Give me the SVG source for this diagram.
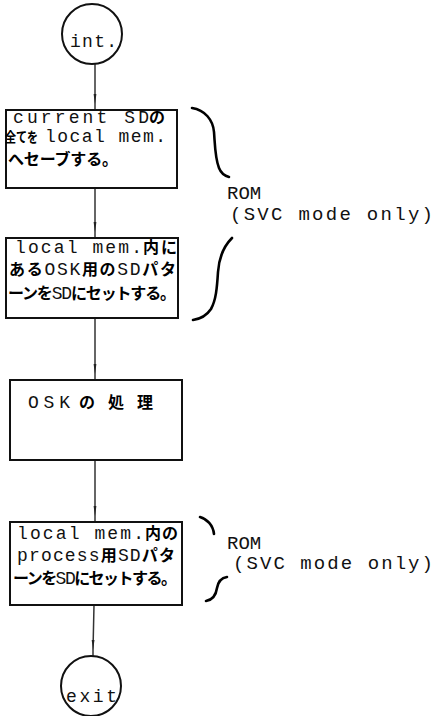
<svg xmlns="http://www.w3.org/2000/svg" width="435" height="716" viewBox="0 0 435 716">
<defs>
<style>
.box{fill:#fff;stroke:#111;stroke-width:2}
.term{fill:#fff;stroke:#111;stroke-width:2}
.conn{fill:none;stroke:#333;stroke-width:1.5}
.brace{fill:none;stroke:#000;stroke-width:2.6;stroke-linecap:round}
.t{font-family:"Liberation Mono","Noto Sans CJK JP",monospace;font-size:18px;fill:#111}
.j{font-family:"Noto Sans CJK JP",sans-serif;font-size:16px;font-weight:bold;fill:#000}
.r{font-family:"Liberation Mono",monospace;font-size:19px;fill:#111}
</style>
<marker id="ah" viewBox="0 0 10 4" refX="10" refY="2" markerWidth="10" markerHeight="4" markerUnits="userSpaceOnUse" orient="auto">
<path d="M0 0.6 L10 2 L0 3.4 Z" fill="#222"/>
</marker>
</defs>
<rect width="435" height="716" fill="#fff"/>
<g id="connectors">
<path class="conn" d="M95 64 L95 104 L95 110" marker-mid="url(#ah)"/>
<path class="conn" d="M95 188 L95 232 L95 238" marker-mid="url(#ah)"/>
<path class="conn" d="M95 318 L95 374 L95 380" marker-mid="url(#ah)"/>
<path class="conn" d="M95 460 L95 516 L95 522" marker-mid="url(#ah)"/>
<path class="conn" d="M94 605 L93 650 L93 656" marker-mid="url(#ah)"/>
</g>
<g id="n-int">
<circle class="term" cx="92" cy="34" r="30"/>
<text class="t" x="70" y="47" textLength="47" lengthAdjust="spacing">int.</text>
</g>
<g id="n-save">
<rect class="box" x="6" y="110" width="171" height="78"/>
<text class="t" x="13" y="123" textLength="136" lengthAdjust="spacing">current SD</text>
<text class="j" x="149" y="123">の</text>
<text class="j" x="5" y="142" textLength="33" lengthAdjust="spacingAndGlyphs" style="font-size:14px">全てを</text>
<text class="t" x="45" y="142" textLength="121" lengthAdjust="spacing">local mem.</text>
<text class="j" x="8" y="165" textLength="110" lengthAdjust="spacing">へセーブする。</text>
</g>
<g id="n-setosk">
<rect class="box" x="6" y="238" width="172" height="80"/>
<text class="t" x="15" y="253" textLength="127" lengthAdjust="spacing">local mem.</text>
<text class="j" x="143" y="253" textLength="34" lengthAdjust="spacing">内に</text>
<text class="t" x="9" y="275" textLength="167" lengthAdjust="spacing"><tspan class="j">ある</tspan><tspan class="t">OSK</tspan><tspan class="j">用の</tspan><tspan class="t">SD</tspan><tspan class="j">パタ</tspan></text>
<text class="t" x="8" y="299" textLength="168" lengthAdjust="spacing"><tspan class="j">ーンを</tspan><tspan class="t">SD</tspan><tspan class="j">にセットする。</tspan></text>
</g>
<g id="n-osk">
<rect class="box" x="10" y="380" width="172" height="80"/>
<text class="t" x="28" y="408" textLength="42" lengthAdjust="spacing">OSK</text>
<text class="j" x="79" y="408" textLength="74" lengthAdjust="spacing">の処理</text>
</g>
<g id="n-setproc">
<rect class="box" x="10" y="522" width="172" height="83"/>
<text class="t" x="17" y="539" textLength="127" lengthAdjust="spacing">local mem.</text>
<text class="j" x="145" y="539" textLength="33" lengthAdjust="spacing">内の</text>
<text class="t" x="17" y="561" textLength="158" lengthAdjust="spacing"><tspan class="t">process</tspan><tspan class="j">用</tspan><tspan class="t">SD</tspan><tspan class="j">パタ</tspan></text>
<text class="t" x="13" y="584" textLength="164" lengthAdjust="spacing"><tspan class="j">ーンを</tspan><tspan class="t">SD</tspan><tspan class="j">にセットする。</tspan></text>
</g>
<g id="n-exit">
<circle class="term" cx="91" cy="686" r="30"/>
<text class="t" x="66" y="702" textLength="51" lengthAdjust="spacing">exit</text>
</g>
<g id="rom1">
<path class="brace" d="M192 108 C205 110 213 120 214 132 C215 145 215 158 219 168 C221 173 225 176 229 177"/>
<path class="brace" d="M232 238 C224 246 219 258 218 272 C217 288 216 300 211 309 C207 315 200 319 193 320"/>
<text class="r" x="227" y="199">ROM</text>
<text class="r" x="230" y="220" textLength="203" lengthAdjust="spacing">(SVC mode only)</text>
</g>
<g id="rom2">
<path class="brace" d="M200 517 C207 519 213 525 214 534"/>
<path class="brace" d="M227 577 C221 578 218 582 217 588 C216 595 212 600 206 601"/>
<text class="r" x="227" y="549">ROM</text>
<text class="r" x="233" y="569" textLength="200" lengthAdjust="spacing">(SVC mode only)</text>
</g>
</svg>
